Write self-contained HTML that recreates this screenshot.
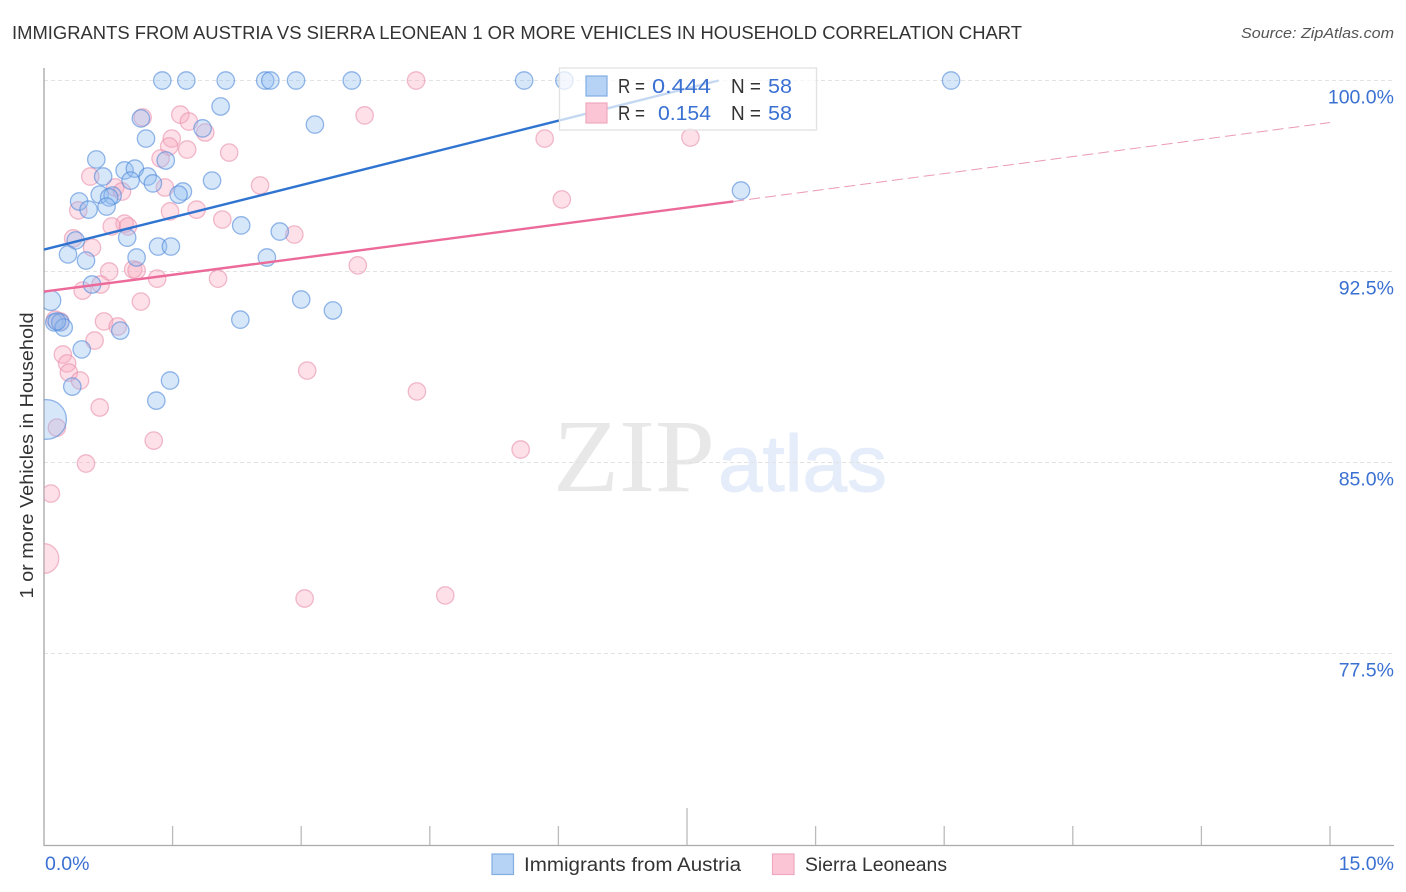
<!DOCTYPE html>
<html lang="en">
<head>
<meta charset="utf-8">
<title>Immigrants from Austria vs Sierra Leonean 1 or more Vehicles in Household Correlation Chart</title>
<style>
html,body{margin:0;padding:0;background:#fff;width:1406px;height:892px;overflow:hidden}
svg{display:block;font-family:"Liberation Sans",sans-serif}
</style>
</head>
<body>
<svg id="chart" width="1406" height="892" viewBox="0 0 1406 892">
  <defs><clipPath id="plot-clip"><rect x="44" y="60" width="1350" height="786"/></clipPath></defs>
  <text x="12" y="39" font-size="18.5" fill="#333" textLength="1010" lengthAdjust="spacingAndGlyphs">IMMIGRANTS FROM AUSTRIA VS SIERRA LEONEAN 1 OR MORE VEHICLES IN HOUSEHOLD CORRELATION CHART</text>
  <text x="1394" y="38" font-size="15" font-style="italic" fill="#555" text-anchor="end" textLength="153" lengthAdjust="spacingAndGlyphs">Source: ZipAtlas.com</text>
  <g>
    <text x="553" y="491" font-family="'Liberation Serif',serif" font-size="104" fill="#e8e8e8" textLength="162" lengthAdjust="spacingAndGlyphs">ZIP</text>
    <text x="718" y="491" font-size="80" fill="#e4edf9" stroke="#e4edf9" stroke-width="1" textLength="169" lengthAdjust="spacingAndGlyphs">atlas</text>
  </g>
  <g id="grid"></g>
  <g id="axes">
    <line x1="44" y1="68" x2="44" y2="846" stroke="#aaa" stroke-width="1.4"/>
    <line x1="44" y1="845.5" x2="1394" y2="845.5" stroke="#aaa" stroke-width="1.2"/>
  </g>
  <g id="xticks"></g>
  <g id="ylabels"></g>
  <g id="xlabels"></g>
  <text transform="translate(33,455.5) rotate(-90)" font-size="18" fill="#333" text-anchor="middle" textLength="286" lengthAdjust="spacingAndGlyphs">1 or more Vehicles in Household</text>
  <g id="pink-points" clip-path="url(#plot-clip)"></g>
  <g id="blue-points" clip-path="url(#plot-clip)"></g>
  <g id="trends"></g>
  <g>
    <rect x="559.5" y="68" width="257" height="62" fill="#fff" fill-opacity="0.72" stroke="#e2e2e2" stroke-width="1.3"/>
    <rect x="586" y="76" width="21" height="20" fill="#b6d2f4" stroke="#82aee4" stroke-width="1.2"/>
    <rect x="586" y="103" width="21" height="20" fill="#fcc5d6" stroke="#eea9bf" stroke-width="1.2"/>
    <g font-size="20">
      <text x="618" y="93" fill="#333" textLength="27" lengthAdjust="spacingAndGlyphs">R =</text>
      <text x="711" y="93" fill="#3a70d2" text-anchor="end" textLength="59" lengthAdjust="spacingAndGlyphs">0.444</text>
      <text x="731" y="93" fill="#333" textLength="30" lengthAdjust="spacingAndGlyphs">N =</text>
      <text x="768" y="93" fill="#3a70d2" textLength="24" lengthAdjust="spacingAndGlyphs">58</text>
      <text x="618" y="120" fill="#333" textLength="27" lengthAdjust="spacingAndGlyphs">R =</text>
      <text x="711" y="120" fill="#3a70d2" text-anchor="end" textLength="53" lengthAdjust="spacingAndGlyphs">0.154</text>
      <text x="731" y="120" fill="#333" textLength="30" lengthAdjust="spacingAndGlyphs">N =</text>
      <text x="768" y="120" fill="#3a70d2" textLength="24" lengthAdjust="spacingAndGlyphs">58</text>
    </g>
  </g>
  <g>
    <rect x="492" y="854" width="21.5" height="20.5" fill="#b6d2f4" stroke="#82aee4" stroke-width="1.2"/>
    <text x="524" y="871" font-size="19" fill="#333" textLength="217" lengthAdjust="spacingAndGlyphs">Immigrants from Austria</text>
    <rect x="772.5" y="854" width="21.5" height="20.5" fill="#fcc5d6" stroke="#eea9bf" stroke-width="1.2"/>
    <text x="805" y="871" font-size="19" fill="#333" textLength="142" lengthAdjust="spacingAndGlyphs">Sierra Leoneans</text>
  </g>
</svg>
<script>
const yTickValues = [100, 92.5, 85, 77.5];
const yTickLabels = ["100.0%", "92.5%", "85.0%", "77.5%"];
const xTickValues = [0, 1.5, 3, 4.5, 6, 7.5, 9, 10.5, 12, 13.5, 15];
const xEndValues = [0, 15];
const xEndLabels = ["0.0%", "15.0%"];

const austriaX = [1.38,1.66,2.12,2.58,2.64,2.94,3.59,5.60,6.07,10.58,2.06,1.13,3.16,1.85,1.19,0.61,1.42,0.94,0.69,1.06,1.21,1.01,1.27,1.96,1.62,1.57,0.65,0.80,0.76,0.41,0.52,0.73,8.13,2.30,0.97,0.37,2.75,1.33,1.48,0.28,1.08,0.49,2.60,0.56,3.00,3.37,0.08,2.29,0.12,0.19,0.23,0.89,0.44,0.33,1.47,1.31,0.03,0.15];
const austriaY = [100,100,100,100,100,100,100,100,100,100,98.98,98.51,98.27,98.12,97.72,96.90,96.86,96.47,96.23,96.54,96.23,96.07,95.96,96.07,95.64,95.52,95.52,95.48,95.41,95.25,94.93,95.05,95.68,94.31,93.83,93.72,94.07,93.48,93.48,93.17,93.05,92.93,93.05,91.99,91.40,90.97,91.36,90.61,90.50,90.50,90.30,90.18,89.44,87.98,88.22,87.43,86.69,90.54];
const austriaPop = [1,1,1,1,1,1,1,1,1,1,1,1,1,1,1,1,1,1,1,1,1,1,1,1,1,1,1,1,1,1,1,1,1,1,1,1,1,1,1,1,1,1,1,1,1,1,1.3,1,1,1,1,1,1,1,1,1,5.2,1];

const sierraX = [4.34,1.15,3.74,1.59,1.69,1.88,1.49,1.46,1.67,2.16,1.36,5.84,7.54,0.54,0.83,0.91,1.41,2.52,6.04,0.40,1.47,1.78,2.08,0.94,0.79,0.98,0.34,0.56,2.92,3.66,0.76,1.04,1.08,1.32,2.03,0.45,0.66,1.13,0.70,0.86,0.13,0.59,0.22,0.27,0.29,0.42,3.07,4.35,0.65,0.15,1.28,5.56,0.49,0.08,0,3.04,4.68,0.19];
const sierraY = [100,98.55,98.63,98.66,98.39,97.96,97.72,97.41,97.29,97.17,96.94,97.72,97.76,96.23,95.80,95.64,95.80,95.88,95.33,94.90,94.86,94.93,94.54,94.38,94.27,94.27,93.80,93.44,93.95,92.74,92.50,92.58,92.54,92.22,92.22,91.75,91.99,91.32,90.54,90.34,90.61,89.79,89.24,88.89,88.53,88.22,88.61,87.79,87.16,86.37,85.86,85.51,84.96,83.78,81.23,79.66,79.78,90.54];
const sierraPop = [1,1,1,1,1,1,1,1,1,1,1,1,1,1,1,1,1,1,1,1,1,1,1,1,1,1,1,1,1,1,1,1,1,1,1,1,1,1,1,1,1,1,1,1,1,1,1,1,1,1,1,1,1,1,2.9,1,1,1];

const austriaTrendX = [0, 7.87];
const austriaTrendY = [93.36, 100];
const sierraTrendX = [0, 8.04];
const sierraTrendY = [91.71, 95.25];
const sierraTrendExtX = [8.04, 15];
const sierraTrendExtY = [95.25, 98.35];

const NS = "http://www.w3.org/2000/svg";
function xScale(v) { return 44 + v * (1286 / 15); }
function yScale(v) { return 80.5 + (100 - v) * (191 / 7.5); }
function radius(p) { return 8.7 * Math.sqrt(p); }
function make(tag, attrs, parent) {
  const el = document.createElementNS(NS, tag);
  for (const k in attrs) el.setAttribute(k, attrs[k]);
  parent.appendChild(el);
  return el;
}
const gridG = document.getElementById("grid");
const yLabelG = document.getElementById("ylabels");
yTickValues.forEach(function (v, i) {
  const gl = make("line", {x1: 44, x2: 1394, y1: yScale(v), y2: yScale(v), stroke: "#e2e2e2", "stroke-width": 1, "stroke-dasharray": "4 3"}, gridG);
  
  
  const t = make("text", {x: 1394, y: yScale(v) + 23, "text-anchor": "end", "font-size": 19.5, fill: "#3a70d2"}, yLabelG);
  t.textContent = yTickLabels[i];
  
  
});
const xTickG = document.getElementById("xticks");
xTickValues.forEach(function (v) {
  const tall = v === 7.5;
  const tk = make("line", {x1: xScale(v), x2: xScale(v), y1: tall ? 808 : 826, y2: 845, stroke: "#bbb", "stroke-width": 1.3}, xTickG);
  
  
});
const xLabelG = document.getElementById("xlabels");
xEndValues.forEach(function (v, i) {
  const t = make("text", {x: i === 0 ? xScale(v) + 1 : 1394, y: 870, "text-anchor": i === 0 ? "start" : "end", "font-size": 19.5, fill: "#3a70d2"}, xLabelG);
  t.textContent = xEndLabels[i];
  
  
});
function drawPoints(groupId, xs, ys, pops, fill, stroke, name) {
  const g = document.getElementById(groupId);
  xs.forEach(function (x, i) {
    const c = make("circle", {cx: xScale(x), cy: yScale(ys[i]), r: radius(pops[i]), fill: fill, "fill-opacity": 0.36, stroke: stroke, "stroke-opacity": 0.6, "stroke-width": 1.3}, g);
    
    
  });
}
drawPoints("pink-points", sierraX, sierraY, sierraPop, "#f9a8c0", "#e88fab", "sierra-leonean-point");
drawPoints("blue-points", austriaX, austriaY, austriaPop, "#8fbcf0", "#4f88d8", "austria-point");
const trendG = document.getElementById("trends");
const tb = make("line", {x1: xScale(austriaTrendX[0]), y1: yScale(austriaTrendY[0]), x2: xScale(austriaTrendX[1]), y2: yScale(austriaTrendY[1]), stroke: "#2f74d0", "stroke-width": 2.4}, trendG);


const tp = make("line", {x1: xScale(sierraTrendX[0]), y1: yScale(sierraTrendY[0]), x2: xScale(sierraTrendX[1]), y2: yScale(sierraTrendY[1]), stroke: "#ec6a99", "stroke-width": 2.4}, trendG);


const te = make("line", {x1: xScale(sierraTrendExtX[0]), y1: yScale(sierraTrendExtY[0]), x2: xScale(sierraTrendExtX[1]), y2: yScale(sierraTrendExtY[1]), stroke: "#eb9ab5", "stroke-width": 1, "stroke-dasharray": "11 5"}, trendG);


</script>
</body>
</html>
